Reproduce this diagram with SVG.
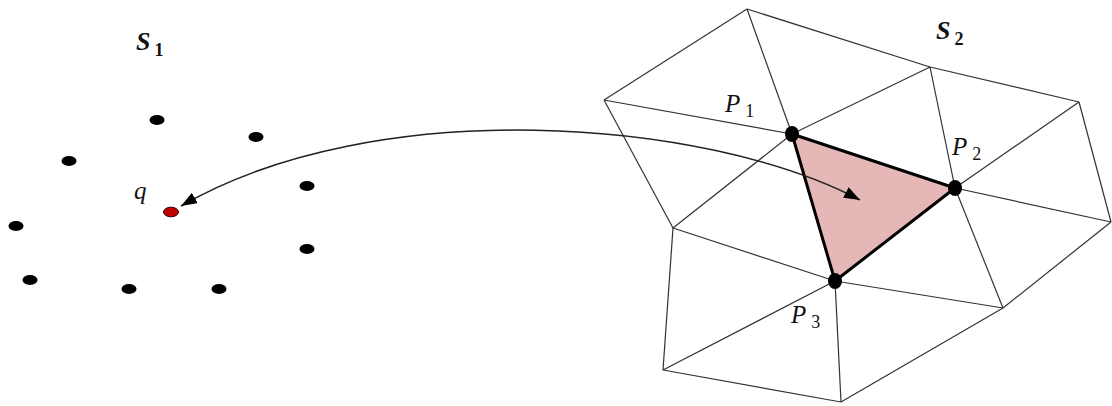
<svg xmlns="http://www.w3.org/2000/svg" width="1112" height="406" viewBox="0 0 1112 406">
<style>
.mesh line{stroke:#333;stroke-width:1.2}
.dot{fill:#000}
.lbl{font-family:"Liberation Serif",serif;font-style:italic;fill:#111}
.set{font-family:"Liberation Serif",serif;font-style:italic;font-weight:bold;fill:#111}
</style>
<defs>
<marker id="ah" viewBox="0 0 16 12" refX="16" refY="6" markerWidth="16" markerHeight="12" markerUnits="userSpaceOnUse" orient="auto-start-reverse">
<path d="M0,0 L16,6 L0,12 Z" fill="#000"/>
</marker>
</defs>
<rect width="1112" height="406" fill="#fff"/>
<g id="mesh" class="mesh">
<line x1="747" y1="9" x2="604" y2="100"/>
<line x1="747" y1="9" x2="930" y2="67"/>
<line x1="930" y1="67" x2="1079" y2="102"/>
<line x1="1079" y1="102" x2="1111" y2="222"/>
<line x1="604" y1="100" x2="792" y2="134"/>
<line x1="747" y1="9" x2="792" y2="134"/>
<line x1="792" y1="134" x2="930" y2="67"/>
<line x1="930" y1="67" x2="955" y2="188"/>
<line x1="955" y1="188" x2="1079" y2="102"/>
<line x1="955" y1="188" x2="1111" y2="222"/>
<line x1="604" y1="100" x2="673" y2="228"/>
<line x1="792" y1="134" x2="673" y2="228"/>
<line x1="673" y1="228" x2="835" y2="281"/>
<line x1="673" y1="228" x2="663" y2="370"/>
<line x1="663" y1="370" x2="835" y2="281"/>
<line x1="663" y1="370" x2="841" y2="402"/>
<line x1="835" y1="281" x2="841" y2="402"/>
<line x1="841" y1="402" x2="1003" y2="308"/>
<line x1="835" y1="281" x2="1003" y2="308"/>
<line x1="1003" y1="308" x2="955" y2="188"/>
<line x1="1003" y1="308" x2="1111" y2="222"/>
</g>
<g id="triangle">
<polygon points="792,134 955,188 835,281" fill="#e5b8b7" stroke="#000" stroke-width="3" stroke-linejoin="round"/>
</g>
<g id="connectors">
<path d="M 860,200 C 705,118 375,94 181,206" fill="none" stroke="#222" stroke-width="1.5" marker-start="url(#ah)" marker-end="url(#ah)"/>
</g>
<g id="P1"><ellipse class="dot" cx="792" cy="134" rx="7" ry="8"/><text class="lbl" x="725" y="112" font-size="25">P<tspan dx="5" dy="5" font-size="18" font-style="normal">1</tspan></text></g>
<g id="P2"><ellipse class="dot" cx="955" cy="188" rx="7" ry="8"/><text class="lbl" x="952" y="155" font-size="25">P<tspan dx="5" dy="5" font-size="18" font-style="normal">2</tspan></text></g>
<g id="P3"><ellipse class="dot" cx="835" cy="281" rx="7" ry="8"/><text class="lbl" x="791" y="323" font-size="25">P<tspan dx="5" dy="5" font-size="18" font-style="normal">3</tspan></text></g>
<g id="S1"><text class="set" x="136" y="50" font-size="26">S<tspan dx="4" dy="6" font-size="18" font-style="normal">1</tspan></text></g>
<g id="S2"><text class="set" x="936" y="39" font-size="26">S<tspan dx="4" dy="6" font-size="18" font-style="normal">2</tspan></text></g>
<g id="q"><ellipse cx="171" cy="212" rx="7.5" ry="4.8" fill="#c00000" stroke="#300" stroke-width="1"/><text class="lbl" x="134" y="199" font-size="25">q</text></g>
<g id="S1points">
<ellipse class="dot" cx="157" cy="120" rx="7.5" ry="5"/>
<ellipse class="dot" cx="256" cy="137" rx="7.5" ry="5"/>
<ellipse class="dot" cx="69" cy="161" rx="7.5" ry="5"/>
<ellipse class="dot" cx="307" cy="186" rx="7.5" ry="5"/>
<ellipse class="dot" cx="16" cy="226" rx="7.5" ry="5"/>
<ellipse class="dot" cx="307" cy="249" rx="7.5" ry="5"/>
<ellipse class="dot" cx="30" cy="280" rx="7.5" ry="5"/>
<ellipse class="dot" cx="129" cy="289" rx="7.5" ry="5"/>
<ellipse class="dot" cx="219" cy="289" rx="7.5" ry="5"/>
</g>
</svg>
